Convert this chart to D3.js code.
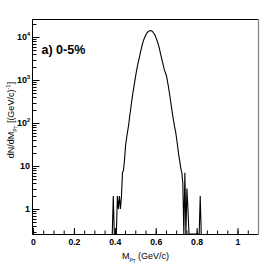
<!DOCTYPE html>
<html>
<head>
<meta charset="utf-8">
<script src="https://cdn.jsdelivr.net/npm/d3@7"></script>
<style>
body { margin: 0; background: #fff; }
svg { display: block; font-family: "Liberation Sans", Arial, sans-serif; }
</style>
</head>
<body>
<svg id="chart" width="276" height="265"></svg>
<script>
// histogram: counts per bin, bins of width 0.005 GeV/c starting at 0.385
var binStart = 0.385;
var binWidth = 0.005;
var counts = [
	0, 2, 0, 0, 0, 2, 1, 2, 1, 2,
	7, 8, 14, 30, 45, 63, 90, 140, 210, 320,
	470, 660, 930, 1300, 1780, 2340, 3000, 3800, 4900, 6200,
	7600, 8900, 10200, 11500, 12600, 13300, 13900, 14100, 14000, 13600,
	12900, 11900, 10700, 9300, 8000, 6800, 5500, 4300, 3400, 2700,
	2150, 1700, 1480, 1260, 930, 680, 480, 330, 225, 155,
	112, 80, 62, 42, 28, 18, 13, 9, 7, 4,
	0, 7, 0, 3, 1, 0, 0, 0, 0, 0,
	0, 0, 0, 0, 0, 0, 2, 0
];
var xTicks = [0, 0.2, 0.4, 0.6, 0.8, 1];
var xTickLabels = ["0", "0.2", "0.4", "0.6", "0.8", "1"];
var yTicks = [1, 10, 100, 1000, 10000];
var yTickLabels = [["1", ""], ["10", ""], ["10", "2"], ["10", "3"], ["10", "4"]];

var margin = {top: 19, right: 18, bottom: 31, left: 33};
var W = 276, H = 265;
var svg = d3.select("#chart");

var x = d3.scaleLinear().domain([0, 1.1]).range([margin.left, W - margin.right]);
var y = d3.scaleLog().domain([Math.pow(10, -0.58), Math.pow(10, 4.42)])
	.range([H - margin.bottom, margin.top]).clamp(true);
var yMin = y.domain()[0];

// x ticks (pointing inward)
var minorX = d3.range(0, 21).map(function(i) { return i * 0.05 }).concat([1.05]);
svg.append("g")
	.attr("transform", "translate(0," + (H - margin.bottom) + ")")
	.call(d3.axisBottom(x).tickValues(minorX).tickSize(-3.5).tickFormat(""))
	.call(function(g) { g.select(".domain").remove() })
	.selectAll("line").attr("stroke", "#000");

var xAxis = svg.append("g")
	.attr("transform", "translate(0," + (H - margin.bottom) + ")")
	.call(d3.axisBottom(x).tickValues(xTicks).tickSize(-6).tickPadding(5)
		.tickFormat(function(d, i) { return xTickLabels[i] }))
xAxis.select(".domain").remove();
xAxis.selectAll("line").attr("stroke", "#000");
xAxis.selectAll("text")
	.attr("fill", "#000")
	.style("font-size", "8.7px")
	.style("font-weight", "bold")
	.style("font-family", "Liberation Sans, Arial, sans-serif");

// y ticks
var minorY = [];
[-1, 0, 1, 2, 3, 4].forEach(function(e) {
	for (var m = 2; m <= 9; m++) {
		var v = m * Math.pow(10, e);
		if (v > y.domain()[0] && v < y.domain()[1]) minorY.push(v);
	}
});
svg.append("g").selectAll("line").data(minorY).enter().append("line")
	.attr("x1", margin.left).attr("x2", margin.left + 3.5)
	.attr("y1", function(d) { return Math.round(y(d)) + 0.5 })
	.attr("y2", function(d) { return Math.round(y(d)) + 0.5 })
	.attr("stroke", "#000");
svg.append("g").selectAll("line").data(yTicks).enter().append("line")
	.attr("x1", margin.left).attr("x2", margin.left + 6.5)
	.attr("y1", function(d) { return Math.round(y(d)) + 0.5 })
	.attr("y2", function(d) { return Math.round(y(d)) + 0.5 })
	.attr("stroke", "#000");

var yl = svg.append("g").selectAll("text").data(yTicks).enter().append("text")
	.attr("x", 30)
	.attr("y", function(d) { return y(d) + 3.2 })
	.attr("text-anchor", "end")
	.style("font-size", "9px")
	.style("font-weight", "bold");
yl.append("tspan").text(function(d, i) { return yTickLabels[i][0] });
yl.append("tspan")
	.attr("dy", -4.5)
	.style("font-size", "5.5px")
	.text(function(d, i) { return yTickLabels[i][1] });

// frame
var x0 = margin.left, x1 = W - margin.right, y0 = margin.top, y1 = H - margin.bottom;
svg.append("line").attr("x1", x0).attr("x2", x1).attr("y1", y0 + 0.5).attr("y2", y0 + 0.5).attr("stroke", "#000");
svg.append("line").attr("x1", x0).attr("x2", x1).attr("y1", y1 + 0.5).attr("y2", y1 + 0.5).attr("stroke", "#000");
svg.append("line").attr("x1", x0 - 0.5).attr("x2", x0 - 0.5).attr("y1", y0).attr("y2", y1 + 1).attr("stroke", "#000");
svg.append("line").attr("x1", x1 + 0.5).attr("x2", x1 + 0.5).attr("y1", y0).attr("y2", y1 + 1).attr("stroke", "#888").attr("stroke-width", 1.3);

// histogram drawn through bin centres, empty bins dropped to the bottom
var pts = [[binStart, 0]];
counts.forEach(function(c, i) {
	pts.push([binStart + (i + 0.5) * binWidth, c]);
});
pts.push([binStart + counts.length * binWidth, 0]);

var line = d3.line()
	.x(function(d) { return x(d[0]) })
	.y(function(d) { return y(d[1] > 0 ? d[1] : yMin) });
svg.append("path")
	.datum(pts)
	.attr("d", line)
	.attr("fill", "none")
	.attr("stroke", "#000")
	.attr("stroke-width", 1.1);

// label
svg.append("text")
	.attr("x", 41.5).attr("y", 53.5)
	.style("font-size", "12.5px")
	.style("font-weight", "bold")
	.text("a) 0-5%");

// x title
var xt = svg.append("text")
	.attr("x", (x0 + x1) / 2).attr("y", 258.5)
	.attr("text-anchor", "middle")
	.style("font-size", "9px");
xt.append("tspan").text("M");
xt.append("tspan").attr("dy", 2.5).style("font-size", "6px").text("p");
xt.append("tspan").attr("dy", 1.5).style("font-size", "4.5px").text("T");
xt.append("tspan").attr("dy", -4).text(" (GeV/c)");

// y title
var yt = svg.append("text")
	.attr("transform", "translate(13.5,120) rotate(-90)")
	.attr("text-anchor", "middle")
	.style("font-size", "9px");
yt.append("tspan").text("dN/dM");
yt.append("tspan").attr("dy", 2.5).style("font-size", "6px").text("p");
yt.append("tspan").attr("dy", 1.5).style("font-size", "4.5px").text("T");
yt.append("tspan").attr("dy", -4).text(" [(GeV/c)");
yt.append("tspan").attr("dy", -4).style("font-size", "6px").text("-1");
yt.append("tspan").attr("dy", 4).text("]");
</script>
</body>
</html>
